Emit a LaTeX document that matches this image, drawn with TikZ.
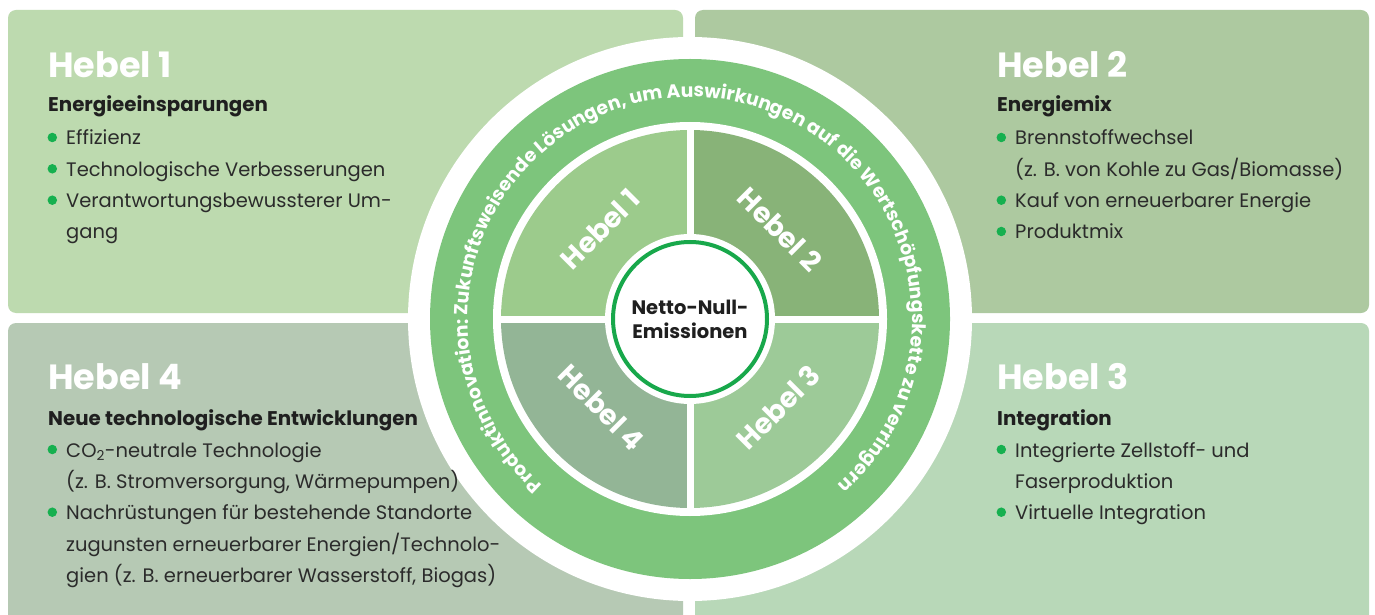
\documentclass[tikz,border=0pt]{standalone}
\usepackage{fontspec}
\setmainfont{Poppins}
\usetikzlibrary{positioning,decorations.text}
\definecolor{panelone}{HTML}{BDDAAF}
\definecolor{paneltwo}{HTML}{ADC9A0}
\definecolor{panelthree}{HTML}{B8D8B8}
\definecolor{panelfour}{HTML}{B6C9B4}
\definecolor{ringgreen}{HTML}{7DC57C}
\definecolor{leverone}{HTML}{9CCB8C}
\definecolor{levertwo}{HTML}{88B378}
\definecolor{leverthree}{HTML}{9DCA98}
\definecolor{leverfour}{HTML}{93B596}
\definecolor{dotgreen}{HTML}{16B04F}
\definecolor{coregreen}{HTML}{18A84B}
\definecolor{txtdark}{HTML}{1F1F1F}
\definecolor{txtgray}{HTML}{2B2B2B}
\newcommand\ringfont{\fontsize{18.8}{18.8}\selectfont\bfseries\color{white}}
\tikzstyle{panel} = [rounded corners=8pt]
\tikzstyle{dot} = [circle,fill=dotgreen,inner sep=0pt,minimum size=9.5pt]
\tikzstyle{panelhead} = [anchor=base west,inner sep=0pt,text=white,font=\fontsize{35}{35}\selectfont\bfseries]
\tikzstyle{panelsub} = [anchor=base west,inner sep=0pt,text=txtdark,font=\fontsize{19.8}{19.8}\selectfont\bfseries]
\tikzstyle{panelitem} = [anchor=base west,inner sep=0pt,text=txtgray,font=\fontsize{19.5}{19.5}\selectfont]
\tikzstyle{lever} = [text=white,inner sep=0pt,font=\fontsize{28}{28}\selectfont\bfseries]

\begin{document}
\begin{tikzpicture}[x=1pt,y=1pt]
    \useasboundingbox (0,0) rectangle (1375,614);
    \fill [white] (0,0) rectangle (1375,614);

    % the four panels
    \fill [panel,panelone] (8,301) rectangle (683,604);
    \fill [panel,paneltwo] (695,301) rectangle (1369,604);
    \fill [panel,panelfour] (8,-20) rectangle (683,291);
    \fill [panel,panelthree] (695,-20) rectangle (1369,291);

    % wheel
    \coordinate (c) at (690,295);
    \fill [white] (c) circle (282);
    \fill [ringgreen] (c) circle (260);
    \fill [white] (c) circle (197);
    \fill [leverone] (c) -- ++(90:189) arc [start angle=90,end angle=180,radius=189] -- cycle;
    \fill [levertwo] (c) -- ++(0:189) arc [start angle=0,end angle=90,radius=189] -- cycle;
    \fill [leverthree] (c) -- ++(270:189) arc [start angle=270,end angle=360,radius=189] -- cycle;
    \fill [leverfour] (c) -- ++(180:189) arc [start angle=180,end angle=270,radius=189] -- cycle;
    \draw [white,line width=7pt] ([xshift=-192pt]c) -- ([xshift=192pt]c);
    \draw [white,line width=7pt] ([yshift=-192pt]c) -- ([yshift=192pt]c);
    \fill [white] (c) circle (85);
    \node [circle,draw=coregreen,line width=4pt,fill=white,minimum size=154pt,align=center,
           text=txtdark,font=\fontsize{19.5}{24}\selectfont\bfseries] (core) at (c) {Netto-Null-\\Emissionen};

    \node [lever,rotate=45] (l1) at ([shift={(135:127)}]c) {Hebel 1};
    \node [lever,rotate=-45] (l2) at ([shift={(45:127)}]c) {Hebel 2};
    \node [lever,rotate=45] (l3) at ([shift={(-45:125)}]c) {Hebel 3};
    \node [lever,rotate=-45] (l4) at ([shift={(225:125)}]c) {Hebel 4};

    \path [decorate,decoration={text along path,text align=center,
           text={|\ringfont|Produktinnovation: Zukunftsweisende Lösungen, um Auswirkungen auf die Wertschöpfungskette zu verringern}}]
        ([shift={(250:222)}]c) arc [start angle=250,end angle=-70,radius=222];

    % Hebel 1
    \node [panelhead] (h1) at (48,536) {Hebel 1};
    \node [panelsub] (h1s) at (48,502) {Energieeinsparungen};
    \node [panelitem] (h1a) at (66,469) {Effizienz};
    \node [panelitem] (h1b) at (66,437.7) {Technologische Verbesserungen};
    \node [panelitem] (h1c) at (66,406.3) {Verantwortungsbewussterer Um-};
    \node [panelitem] (h1d) at (66,375) {gang};
    \node [dot] (d1a) at (52.3,476.5) {};
    \node [dot] (d1b) at (52.3,445.2) {};
    \node [dot] (d1c) at (52.3,413.8) {};

    % Hebel 2
    \node [panelhead] (h2) at (997,536) {Hebel 2};
    \node [panelsub] (h2s) at (997,502) {Energiemix};
    \node [panelitem] (h2a) at (1015,469) {Brennstoffwechsel};
    \node [panelitem] (h2b) at (1015,437.7) {(z. B. von Kohle zu Gas/Biomasse)};
    \node [panelitem] (h2c) at (1015,406.3) {Kauf von erneuerbarer Energie};
    \node [panelitem] (h2d) at (1015,375) {Produktmix};
    \node [dot] (d2a) at (1001.3,476.5) {};
    \node [dot] (d2c) at (1001.3,413.8) {};
    \node [dot] (d2d) at (1001.3,382.5) {};

    % Hebel 3
    \node [panelhead] (h3) at (997,225) {Hebel 3};
    \node [panelsub] (h3s) at (997,189) {Integration};
    \node [panelitem] (h3a) at (1015,157) {Integrierte Zellstoff- und};
    \node [panelitem] (h3b) at (1015,125.7) {Faserproduktion};
    \node [panelitem] (h3c) at (1015,94.3) {Virtuelle Integration};
    \node [dot] (d3a) at (1001.3,164.5) {};
    \node [dot] (d3c) at (1001.3,101.8) {};

    % Hebel 4
    \node [panelhead] (h4) at (48,225) {Hebel 4};
    \node [panelsub] (h4s) at (48,189) {Neue technologische Entwicklungen};
    \node [panelitem] (h4a) at (66,157) {CO\textsubscript{2}-neutrale Technologie};
    \node [panelitem] (h4b) at (66,125.7) {(z. B. Stromversorgung, Wärmepumpen)};
    \node [panelitem] (h4c) at (66,94.3) {Nachrüstungen für bestehende Standorte};
    \node [panelitem] (h4d) at (66,63) {zugunsten erneuerbarer Energien/Technolo-};
    \node [panelitem] (h4e) at (66,31.7) {gien (z. B. erneuerbarer Wasserstoff, Biogas)};
    \node [dot] (d4a) at (52.3,164.5) {};
    \node [dot] (d4c) at (52.3,101.8) {};
\end{tikzpicture}
\end{document}
